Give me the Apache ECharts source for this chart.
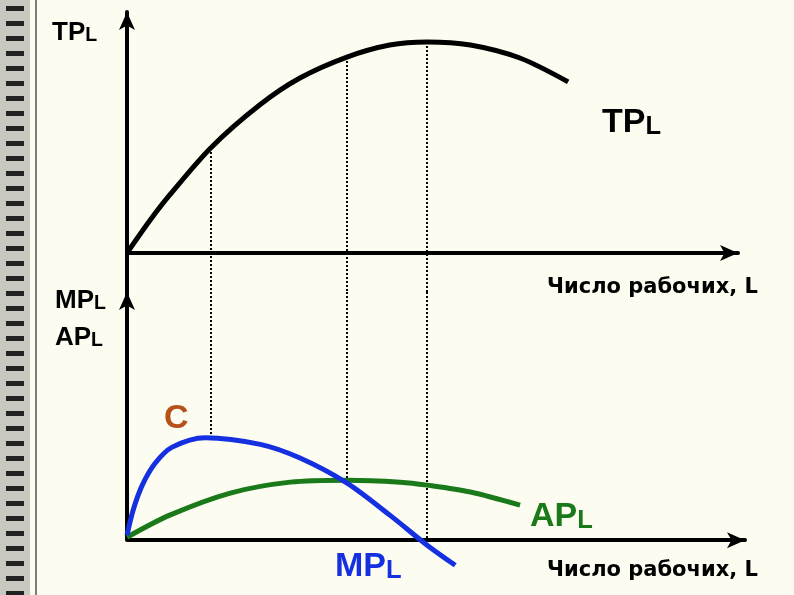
<!DOCTYPE html>
<html><head><meta charset="utf-8">
<script src="https://cdn.jsdelivr.net/npm/echarts@6/dist/echarts.min.js"></script>
<style>html,body{margin:0;padding:0;background:#fdfcf0}#c{width:794px;height:595px}</style>
</head><body><div id="c"></div>
<script>
// Data (chart units: x 0..100 across axis, y 0..100 of panel height)
var tpX = [0, 3.8, 7.0, 13.7, 21.7, 28.3, 36.0, 43.0, 49.1, 56.2, 64.3, 72.2];
var tpY = [0, 13.7, 24.1, 43.6, 61.4, 72.6, 81.3, 86.3, 87.6, 86.3, 80.9, 71.0];
var mpX = [0, 1.0, 2.5, 4.6, 7.4, 12.8, 21.8, 28.3, 36.0, 43.0, 49.1, 53.7];
var mpY = [2, 12.1, 22.2, 31.0, 37.5, 41.3, 38.6, 33.1, 23.0, 10.1, -2, -10.1];
var apX = [0, 7.0, 16.9, 26.7, 36.0, 44.7, 49.1, 56.2, 64.3];
var apY = [1.2, 10.1, 19.0, 23.4, 24.2, 23.4, 22.2, 19.4, 14.1];
var guideX = [13.7, 36.0, 49.1];
var guideTopY = [43.6, 81.3, 87.6];
var guideBotY = [41.2, 24.2, 0];

function zip(a,b){return a.map(function(v,i){return [v,b[i]];});}
var chart = echarts.init(document.getElementById('c'));
var axisLine = {lineStyle:{color:'#000',width:4},symbol:['none','arrow'],symbolSize:[12,18]};
var hid = {show:false};
var dotted = {type:'dotted',color:'#000',width:2};
var graphics = [
  {type:'rect',shape:{x:0,y:0,width:30,height:595},style:{fill:'#c8c8c0'}},
  {type:'line',shape:{x1:36,y1:0,x2:36,y2:595},style:{stroke:'#555',lineWidth:1.5}}
];
for (var i=0;i<40;i++){
  graphics.push({type:'rect',shape:{x:6,y:6+i*15,width:18,height:5},style:{fill:'#222'}});
}
function lbl(x,y,main,sub,color,size){
  graphics.push({type:'text',left:x,top:y,style:{rich:{a:{fontSize:size,fontWeight:'bold',fill:color,fontFamily:'Liberation Sans'},b:{fontSize:size*0.75,fontWeight:'bold',fill:color,fontFamily:'Liberation Sans',verticalAlign:'bottom',padding:[size*0.2,0,0,0]}},text:'{a|'+main+'}{b|'+sub+'}'}});
}
lbl(52,20,'TP','L','#000',26);
lbl(602,106,'TP','L','#000',34);
lbl(55,288,'MP','L','#000',26);
lbl(55,325,'AP','L','#000',26);
lbl(530,500,'AP','L','#1a7a1a',34);
lbl(335,550,'MP','L','#1530e0',34);
graphics.push({type:'text',left:164,top:402,style:{text:'C',fontSize:34,fontWeight:'bold',fill:'#b8501a',fontFamily:'Liberation Sans'}});
graphics.push({type:'text',left:547,top:277,style:{text:'Число рабочих, L',fontSize:21,fontWeight:'bold',fill:'#000',fontFamily:'DejaVu Sans'}});
graphics.push({type:'text',left:547,top:560,style:{text:'Число рабочих, L',fontSize:21,fontWeight:'bold',fill:'#000',fontFamily:'DejaVu Sans'}});

chart.setOption({
  backgroundColor:'#fdfcf0',
  animation:false,
  grid:[{left:127,top:12,width:611,height:280},{left:127,top:292,width:618,height:278}],
  xAxis:[
    {gridIndex:0,type:'value',min:0,max:100,axisLine:axisLine,axisTick:hid,axisLabel:hid,splitLine:hid},
    {gridIndex:1,type:'value',min:0,max:101.1,axisLine:axisLine,axisTick:hid,axisLabel:hid,splitLine:hid}
  ],
  yAxis:[
    {gridIndex:0,type:'value',min:-16.2,max:100,axisLine:axisLine,axisTick:hid,axisLabel:hid,splitLine:hid},
    {gridIndex:1,type:'value',min:-12,max:100,axisLine:{show:false},axisTick:hid,axisLabel:hid,splitLine:hid}
  ],
  series:[
    {type:'line',xAxisIndex:0,yAxisIndex:0,smooth:0.3,symbol:'none',data:zip(tpX,tpY),lineStyle:{color:'#000',width:5},z:5,
     markLine:{symbol:'none',silent:true,label:{show:false},lineStyle:dotted,
       data:guideX.map(function(x,i){return [{coord:[x,guideTopY[i]]},{coord:[x,-16.2]}];})}},
    {type:'line',xAxisIndex:1,yAxisIndex:1,smooth:0.3,symbol:'none',data:zip(apX,apY),lineStyle:{color:'#1a7a1a',width:5},z:5,
     markLine:{symbol:'none',silent:true,label:{show:false},lineStyle:dotted,
       data:guideX.map(function(x,i){return [{coord:[x,100]},{coord:[x,guideBotY[i]]}];})}},
    {type:'line',xAxisIndex:1,yAxisIndex:1,smooth:0.3,symbol:'none',data:zip(mpX,mpY),lineStyle:{color:'#1530e0',width:5},z:6,
     markLine:{symbol:['none','arrow'],symbolSize:[12,18],silent:true,label:{show:false},lineStyle:{type:'solid',color:'#000',width:4},
       data:[[{coord:[0,0]},{coord:[0,100]}]]}}
  ],
  graphic:graphics
});
</script></body></html>
